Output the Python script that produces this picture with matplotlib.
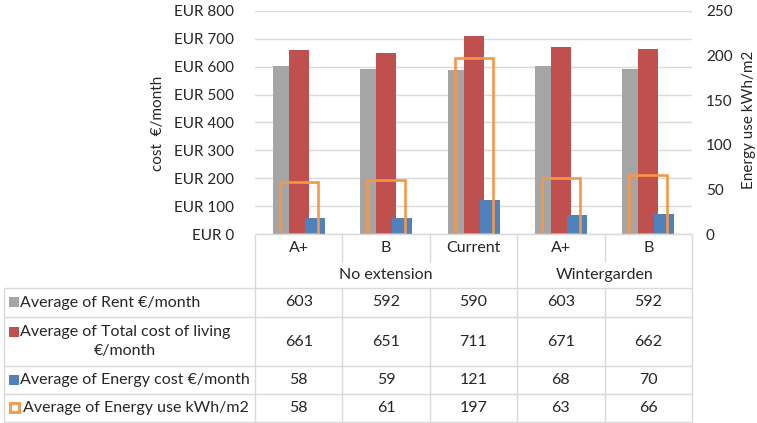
import matplotlib
matplotlib.use("Agg")
import matplotlib.pyplot as plt
from matplotlib.patches import Rectangle
from matplotlib.ticker import FuncFormatter, MultipleLocator

plt.rcParams['font.family'] = ['Lato', 'DejaVu Sans']

categories = ["A+", "B", "Current", "A+", "B"]
groups = ["No extension", "Wintergarden"]
group_spans = [(0, 3), (3, 5)]
rent = [603, 592, 590, 603, 592]
total_cost = [661, 651, 711, 671, 662]
energy_cost = [58, 59, 121, 68, 70]
energy_use = [58, 61, 197, 63, 66]
series_names = ["Average of Rent €/month", "Average of Total cost of living\n€/month",
                "Average of Energy cost €/month", "Average of Energy use kWh/m2"]

C_GRAY = "#A5A5A5"
C_RED = "#C0504D"
C_BLUE = "#4F81BD"
C_ORANGE = "#F79646"
C_GRID = "#D9D9D9"
C_TEXT = "#262626"

W, H = 757, 423
fig = plt.figure(figsize=(W / 100, H / 100), dpi=100)

# plot area in pixels
L, R, T, B = 255, 692, 11, 234
def fx(x): return x / W
def fy(y): return 1 - y / H

ax = fig.add_axes([fx(L), fy(B), fx(R - L), (B - T) / H])
ax2 = ax.twinx()
n = len(categories)
cw = (R - L) / n  # px per category
bw = 20 / cw
step = 16 / cw
xs = list(range(n))
ax.bar([x - step for x in xs], rent, width=bw, color=C_GRAY, zorder=2)
ax.bar(xs, total_cost, width=bw, color=C_RED, zorder=3)
ax.bar([x + step for x in xs], energy_cost, width=bw, color=C_BLUE, zorder=4)
ax2.bar(xs, energy_use, width=38 / cw, facecolor="none", edgecolor=C_ORANGE, linewidth=1.9, zorder=5)

tfs = 11
for a in (ax, ax2):
    a.set_xlim(-0.5, n - 0.5)
    for s in a.spines.values():
        s.set_visible(False)
    a.set_xticks([])
    a.tick_params(length=0, labelsize=tfs, labelcolor=C_TEXT)
ax.set_ylim(0, 800)
ax.yaxis.set_major_locator(MultipleLocator(100))
ax.yaxis.set_major_formatter(FuncFormatter(lambda v, p: f"EUR {int(v)}"))
ax.grid(axis="y", color=C_GRID, linewidth=1, zorder=0)
ax.set_axisbelow(True)
ax2.set_ylim(0, 250)
ax2.yaxis.set_major_locator(MultipleLocator(50))
ax.tick_params(axis="y", pad=15)
ax2.tick_params(axis="y", pad=10)

fig.text(fx(158), fy(123), "cost  €/month", rotation=90, ha="center", va="center", fontsize=tfs, color=C_TEXT)
fig.text(fx(749), fy(120), "Energy use kWh/m2", rotation=90, ha="center", va="center", fontsize=tfs, color=C_TEXT)

# table overlay
ov = fig.add_axes([0, 0, 1, 1], facecolor="none")
ov.set_xlim(0, W)
ov.set_ylim(H, 0)
ov.axis("off")
lw = 1
def hline(y, x0, x1): ov.plot([x0, x1], [y, y], color=C_GRID, lw=lw, solid_capstyle="butt")
def vline(x, y0, y1): ov.plot([x, x], [y0, y1], color=C_GRID, lw=lw, solid_capstyle="butt")

row_y = [288, 317, 366, 394, 422]
hline(B, L, R)
for y in row_y:
    hline(y, 4, R)
vline(4, 288, 422)
edges = [L + i * cw for i in range(n + 1)]
group_edges = {edges[a] for a, b in group_spans} | {edges[b] for a, b in group_spans}
for e in edges:
    if e in group_edges:
        vline(e, B, 422)
    else:
        vline(e, B, 262)
        vline(e, 288, 422)

fs = 11.5
for i, c in enumerate(categories):
    ov.text(edges[i] + cw / 2, 248, c, ha="center", va="center", fontsize=fs, color=C_TEXT)
for g, (a, b) in zip(groups, group_spans):
    ov.text((edges[a] + edges[b]) / 2, 275, g, ha="center", va="center", fontsize=fs, color=C_TEXT)

row_data = [rent, total_cost, energy_cost, energy_use]
row_cols = [C_GRAY, C_RED, C_BLUE, C_ORANGE]
for r in range(4):
    yc = (row_y[r] + row_y[r + 1]) / 2
    for i in range(n):
        ov.text(edges[i] + cw / 2, yc, f"{row_data[r][i]}", ha="center", va="center", fontsize=fs, color=C_TEXT)
    if r < 3:
        my = yc - 9 if r == 1 else yc
        ov.add_patch(Rectangle((9, my - 5), 10, 10, facecolor=row_cols[r], edgecolor="none"))
        ov.text(20, yc, series_names[r], ha="left", va="center",
                fontsize=fs, color=C_TEXT, multialignment="center", linespacing=1.45)
    else:
        ov.add_patch(Rectangle((10, yc - 4.5), 9, 9, facecolor="white", edgecolor=C_ORANGE, linewidth=2))
        ov.text(23, yc, series_names[r], ha="left", va="center", fontsize=fs, color=C_TEXT)

fig.savefig("out.png", dpi=100)
